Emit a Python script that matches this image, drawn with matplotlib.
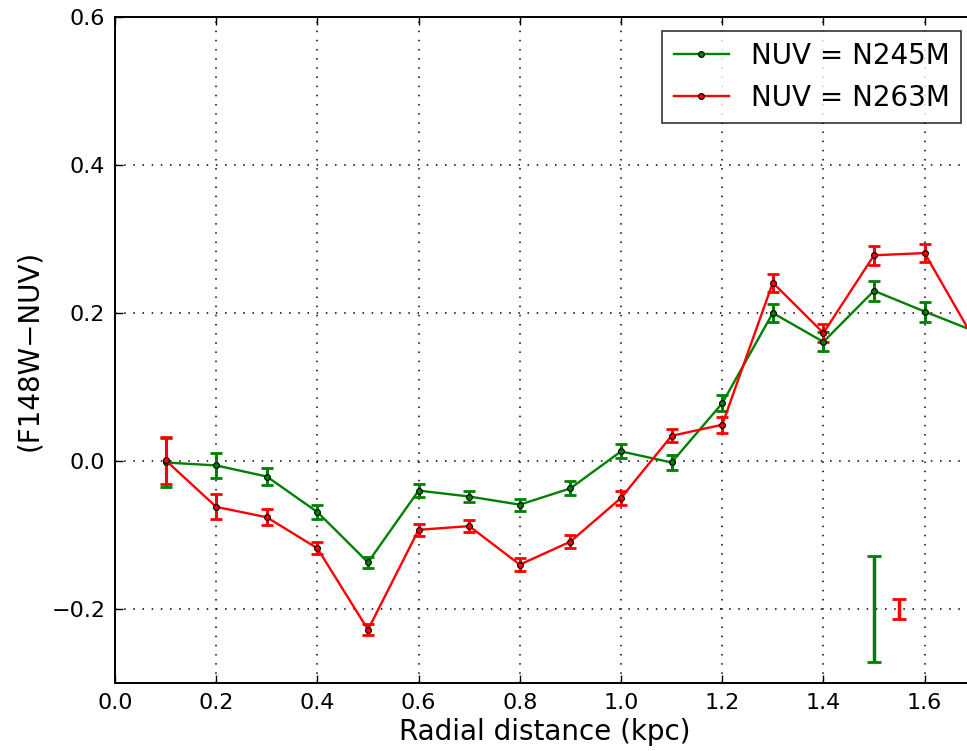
import matplotlib
matplotlib.use("Agg")
import matplotlib.pyplot as plt
from matplotlib.ticker import MultipleLocator

# colour profiles, F148W minus each NUV filter
radius = [0.1, 0.2, 0.3, 0.4, 0.5, 0.6, 0.7, 0.8, 0.9, 1.0,
          1.1, 1.2, 1.3, 1.4, 1.5, 1.6, 1.7]
col_n245m = [-0.002, -0.006, -0.021, -0.069, -0.137, -0.040, -0.048, -0.059, -0.037,
             0.013, -0.002, 0.078, 0.200, 0.161, 0.230, 0.202, 0.175]
err_n245m = [0.033, 0.017, 0.011, 0.009, 0.007, 0.0086, 0.008, 0.0083, 0.0095,
             0.0095, 0.0097, 0.011, 0.0124, 0.013, 0.0135, 0.0135, 0.0135]
col_n263m = [0.001, -0.062, -0.076, -0.118, -0.228, -0.093, -0.088, -0.140, -0.109,
             -0.050, 0.034, 0.049, 0.241, 0.173, 0.278, 0.281, 0.162]
err_n263m = [0.032, 0.017, 0.011, 0.0083, 0.0077, 0.0083, 0.008, 0.0083, 0.0088,
             0.009, 0.0086, 0.0106, 0.012, 0.0117, 0.013, 0.0126, 0.013]

# typical systematic error bars drawn in the lower right corner
sys_x = [1.5, 1.55]
sys_y = [-0.2, -0.2]
sys_err = [0.071, 0.014]

fig = plt.figure(figsize=(9.67, 7.51), dpi=100)
ax = fig.add_axes([115 / 967, 68 / 751, 860.2 / 967, 666 / 751])

for y, e, c, lab in [(col_n245m, err_n245m, "g", "NUV = N245M"),
                     (col_n263m, err_n263m, "r", "NUV = N263M")]:
    ax.errorbar(radius, y, yerr=e, fmt="none", ecolor=c, elinewidth=2.2,
                capsize=4, capthick=2, zorder=2)
    ax.plot(radius, y, color=c, lw=1.7, marker="o", ms=4.2, mec="k", mew=0.8,
            label=lab, zorder=3)

for x, y, e, c in zip(sys_x, sys_y, sys_err, ["g", "r"]):
    ax.errorbar([x], [y], yerr=[e], fmt="none", ecolor=c, elinewidth=2.5,
                capsize=5, capthick=2)

ax.set_xlim(0, 1.7)
ax.set_ylim(-0.3, 0.6)
ax.xaxis.set_major_locator(MultipleLocator(0.2))
ax.yaxis.set_major_locator(MultipleLocator(0.2))
ax.grid(True, color="k", linestyle=(0, (1, 5)), linewidth=1.1)
ax.tick_params(direction="in", length=6, width=1, labelsize=16, pad=7,
               top=True, right=True)
for s in ax.spines.values():
    s.set_linewidth(1.4)

ax.set_xlabel("Radial distance (kpc)", fontsize=20, labelpad=4)
ax.set_ylabel("(F148W\u2212NUV)", fontsize=20, labelpad=6)

leg = ax.legend(loc="upper right", fontsize=20, numpoints=1, fancybox=False,
                handlelength=2, handletextpad=0.8, borderaxespad=0.5)
leg.get_frame().set_edgecolor("k")
leg.get_frame().set_linewidth(1.2)

fig.savefig("out.png", dpi=100)
